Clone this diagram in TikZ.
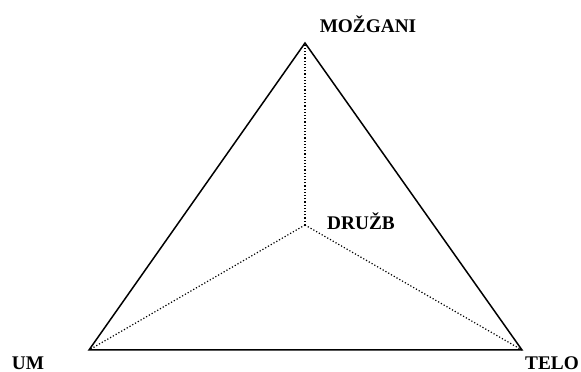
\documentclass[tikz,border=0pt]{standalone}
\usepackage{fontspec}
\setmainfont{Liberation Serif}
\usetikzlibrary{calc}
\definecolor{ink}{HTML}{000000}
\tikzset{
    side/.style={draw=ink, line width=1.5pt, line join=miter},
    spoke/.style={draw=ink, line width=1.2pt, dotted},
    lbl/.style={font=\fontsize{19.3}{21}\selectfont\bfseries, text=ink, inner sep=0pt}
}
\begin{document}
\begin{tikzpicture}[x=1pt, y=1pt]
        \useasboundingbox (0,0) rectangle (581,372);
        % corners and centre
        \coordinate (mozgani) at (305,329);
        \coordinate (um) at (89,22);
        \coordinate (telo) at (522,22);
        \coordinate (druzb) at (305,147);
        % triangle
        \draw[side] (mozgani) -- (um) -- (telo) -- cycle;
        % dotted spokes
        \foreach \v in {mozgani, um, telo} \draw[spoke] (druzb) -- (\v);
        % labels
        \node[lbl] (tmozgani) at (368,348) {MOŽGANI};
        \node[lbl] (tdruzb) at (361,151) {DRUŽB};
        \node[lbl] (tum) at (28,9) {UM};
        \node[lbl] (ttelo) at (552,9) {TELO};
    \end{tikzpicture}
\end{document}
